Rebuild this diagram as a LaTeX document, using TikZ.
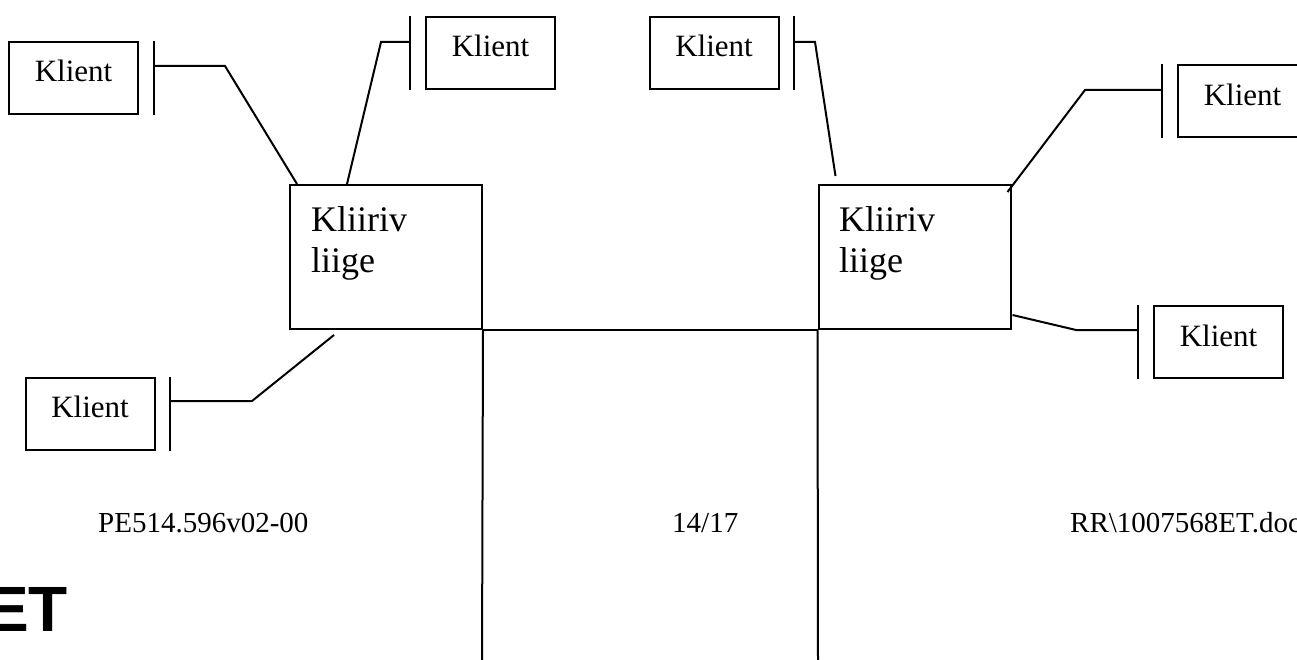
\documentclass[tikz,border=0pt]{standalone}
\usepackage{fontspec}
\setmainfont{Liberation Serif}
\newfontfamily\headsans{Liberation Sans}
\begin{document}
\begin{tikzpicture}[x=1pt,y=-1pt,
  klient/.style={draw,line width=2pt,rectangle,inner sep=0pt,
    minimum width=129pt,minimum height=72pt,
    font=\fontsize{31}{36}\selectfont,text height=21pt,text depth=13pt},
  member/.style={draw,line width=2pt,rectangle,inner sep=0pt,
    minimum width=192pt,minimum height=144pt},
  membertext/.style={anchor=north west,inner sep=0pt,align=left,
    font=\fontsize{36}{41}\selectfont},
  wire/.style={line width=2pt,line join=miter},
  barline/.style={line width=2pt},
  foot/.style={anchor=base west,inner sep=0pt,font=\fontsize{29}{34}\selectfont}]
\useasboundingbox (0,0) rectangle (1297,660);
\clip (0,0) rectangle (1297,660);

% clearing members
\node[member] (L) at (386,257) {};
\node[member] (R) at (914.5,257) {};
\node[membertext] (Lt) at (311,206.5) {Kliiriv\\liige};
\node[membertext] (Rt) at (839,206.5) {Kliiriv\\liige};

% trunk lines between the members and down the page
\coordinate (Lfoot) at (482,665);
\coordinate (Rfoot) at (818,665);
\draw[wire] (L.south east) -- (R.south west);
\draw[wire] (L.south east) -- (Lfoot);
\draw[wire] (R.south west) -- (Rfoot);

% clients
\node[klient] (k1) at (73.5,78)   {Klient};
\node[klient] (k2) at (490.5,53)  {Klient};
\node[klient] (k3) at (714,53)    {Klient};
\node[klient] (k4) at (1242.5,101.5) {Klient};
\node[klient] (k5) at (1218.5,342) {Klient};
\node[klient] (k6) at (90,413.5)  {Klient};

% points where each wire meets its bar
\coordinate (b1) at (154,66);
\coordinate (b2) at (410,42);
\coordinate (b3) at (794,42);
\coordinate (b4) at (1162,90);
\coordinate (b5) at (1138,330);
\coordinate (b6) at (170,401);

% bars in front of the clients
\foreach \b/\k in {b1/k1,b2/k2,b3/k3,b4/k4,b5/k5,b6/k6}
  \draw[barline] (\b |- \k.north) -- (\b |- \k.south);

% wires from members to clients
\draw[wire] ([xshift=8pt]L.north west) -- (225,66) -- (b1);
\draw[wire] ([xshift=58pt]L.north west) -- (381,42) -- (b2);
\draw[wire] ([xshift=18pt,yshift=8pt]R.north west) -- (815,42) -- (b3);
\draw[wire] ([xshift=-4pt,yshift=-8pt]R.north east) -- (1085,90) -- (b4);
\draw[wire] ([xshift=1pt,yshift=15pt]R.south east) -- (1076,330) -- (b5);
\draw[wire] ([xshift=45pt,yshift=-5pt]L.south west) -- (252,401) -- (b6);

% page footer
\node[foot] (f1) at (98,532)   {PE514.596v02-00};
\node[foot] (f2) at (672,532)  {14/17};
\node[foot] (f3) at (1070,532) {RR\textbackslash 1007568ET.doc};
\node[anchor=base west,inner sep=0pt,font=\headsans\bfseries\fontsize{64}{70}\selectfont]
  (et) at (-14,631) {ET};
\end{tikzpicture}
\end{document}
